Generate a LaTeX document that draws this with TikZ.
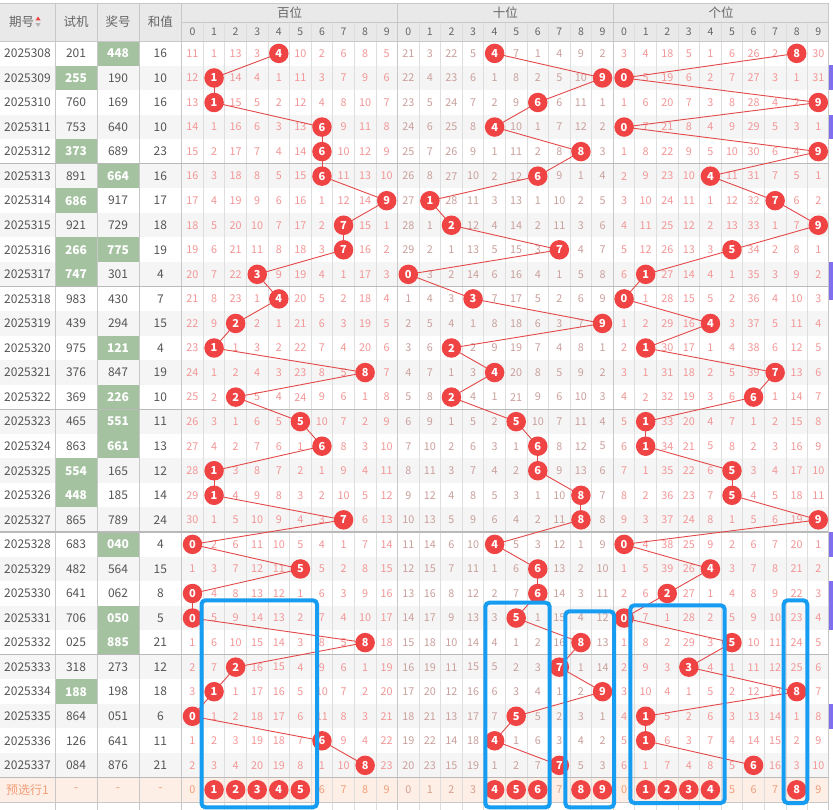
\documentclass[tikz,border=0pt]{standalone}
\usepackage{fontspec}
\setmainfont{Noto Sans CJK SC}
\definecolor{headgrey}{RGB}{233,233,233}
\definecolor{headtext}{RGB}{102,102,102}
\definecolor{stripe}{RGB}{245,245,245}
\definecolor{gridline}{RGB}{222,222,222}
\definecolor{siderule}{RGB}{200,200,200}
\definecolor{grouprule}{RGB}{185,185,185}
\definecolor{textgrey}{RGB}{85,85,85}
\definecolor{pairgreen}{RGB}{164,194,160}
\definecolor{miss0}{RGB}{243,150,150}
\definecolor{miss1}{RGB}{202,160,156}
\definecolor{miss2}{RGB}{243,150,150}
\definecolor{ballred}{RGB}{240,68,68}
\definecolor{trendred}{RGB}{228,72,72}
\definecolor{boxblue}{RGB}{22,156,240}
\definecolor{prefbg}{RGB}{253,238,230}
\definecolor{pref0}{RGB}{242,158,120}
\definecolor{pref1}{RGB}{214,160,140}
\definecolor{pref2}{RGB}{242,158,120}
\definecolor{markviolet}{RGB}{128,112,240}
\tikzstyle{cell}=[inner sep=0, text=textgrey, font=\fontsize{12}{14}\selectfont]
\tikzstyle{pair}=[inner sep=0, text=white, font=\fontsize{12}{14}\selectfont\bfseries]
\tikzstyle{head}=[inner sep=0, text=headtext, font=\fontsize{12.5}{14}\selectfont]
\tikzstyle{subhead}=[inner sep=0, text=headtext, font=\fontsize{10.5}{12}\selectfont]
\tikzstyle{miss}=[inner sep=0, font=\fontsize{10.8}{12}\selectfont]
\tikzstyle{ball}=[circle, fill=ballred, text=white, inner sep=0, minimum size=19.5pt, font=\fontsize{11}{12}\selectfont\bfseries]
\tikzstyle{trendline}=[draw=trendred, line width=0.9pt]
\tikzstyle{pick}=[draw=boxblue, line width=4pt, rounded corners=4pt]
\tikzstyle{thin grid}=[draw=gridline, line width=0.8pt]
\tikzstyle{side rule}=[draw=siderule, line width=0.9pt]
\tikzstyle{group rule}=[draw=grouprule, line width=1.3pt]

\begin{document}
\begin{tikzpicture}[x=1pt, y=-1pt]
  \useasboundingbox (0,0) rectangle (833,810);
  \fill[white] (0,0) rectangle (833,810);

  % header
  \fill[headgrey] (0,3) rectangle (828.3,41);
  \node[head] (h-per) at (21.7,22) {期号};
  \fill[ballred] (35.6,20.3) -- (40.6,20.3) -- (38.1,16.6) -- cycle;
  \fill[black!30] (35.6,23.2) -- (40.6,23.2) -- (38.1,26.9) -- cycle;
  \node[head] (h-tst) at (76,22) {试机};
  \node[head] (h-jh) at (118,22) {奖号};
  \node[head] (h-sm) at (160.4,22) {和值};
  \foreach \pos/\name in {0/百位,1/十位,2/个位}{
    \node[head] (h-\pos) at ({289.6+215.8*\pos},12.5) {\name};
    \foreach \dg in {0,...,9}
      \node[subhead] (h-\pos-\dg) at ({192.49+215.8*\pos+21.58*\dg},32) {\dg};
  }

  % missing counts before the first row
  \foreach \val [count=\dg from 0] in {10,0,12,2,0,9,1,5,7,4}
    {\expandafter\xdef\csname mv-0-\dg\endcsname{\val}}
  \foreach \val [count=\dg from 0] in {20,2,21,4,0,6,0,3,8,1}
    {\expandafter\xdef\csname mv-1-\dg\endcsname{\val}}
  \foreach \val [count=\dg from 0] in {2,3,17,4,0,5,25,1,0,29}
    {\expandafter\xdef\csname mv-2-\dg\endcsname{\val}}

  % rows
  \foreach \per/\tst/\jh/\sm/\gs/\gj/\dgh/\dgt/\dgu [count=\rw from 0] in {
    2025308/201/448/16/0/1/4/4/8, 2025309/255/190/10/1/0/1/9/0,
    2025310/760/169/16/0/0/1/6/9, 2025311/753/640/10/0/0/6/4/0,
    2025312/373/689/23/1/0/6/8/9, 2025313/891/664/16/0/1/6/6/4,
    2025314/686/917/17/1/0/9/1/7, 2025315/921/729/18/0/0/7/2/9,
    2025316/266/775/19/1/1/7/7/5, 2025317/747/301/4/1/0/3/0/1,
    2025318/983/430/7/0/0/4/3/0, 2025319/439/294/15/0/0/2/9/4,
    2025320/975/121/4/0/1/1/2/1, 2025321/376/847/19/0/0/8/4/7,
    2025322/369/226/10/0/1/2/2/6, 2025323/465/551/11/0/1/5/5/1,
    2025324/863/661/13/0/1/6/6/1, 2025325/554/165/12/1/0/1/6/5,
    2025326/448/185/14/1/0/1/8/5, 2025327/865/789/24/0/0/7/8/9,
    2025328/683/040/4/0/1/0/4/0, 2025329/482/564/15/0/0/5/6/4,
    2025330/641/062/8/0/0/0/6/2, 2025331/706/050/5/0/1/0/5/0,
    2025332/025/885/21/0/1/8/8/5, 2025333/318/273/12/0/0/2/7/3,
    2025334/188/198/18/1/0/1/9/8, 2025335/864/051/6/0/0/0/5/1,
    2025336/126/641/11/0/0/6/4/1, 2025337/084/876/21/0/0/8/7/6}{
    \pgfmathsetmacro\yt{41+24.55*\rw}
    \pgfmathsetmacro\yc{\yt+12.4}
    \ifodd\rw \fill[stripe] (0,\yt) rectangle (828.3,\yt+24.55); \fi
    \node[cell] (per-\rw) at (27.5,\yc) {\per};
    \ifnum\gs=1
      \fill[pairgreen] (55,\yt) rectangle (97,\yt+24.55);
      \node[pair] (tst-\rw) at (76,\yc) {\tst};
    \else
      \node[cell] (tst-\rw) at (76,\yc) {\tst};
    \fi
    \ifnum\gj=1
      \fill[pairgreen] (97,\yt) rectangle (139,\yt+24.55);
      \node[pair] (jh-\rw) at (118,\yc) {\jh};
    \else
      \node[cell] (jh-\rw) at (118,\yc) {\jh};
    \fi
    \node[cell] (sm-\rw) at (160.4,\yc) {\sm};
    \foreach \pos/\hit in {0/\dgh,1/\dgt,2/\dgu}{
      \foreach \dg in {0,...,9}{
        \pgfmathsetmacro\xc{192.49+215.8*\pos+21.58*\dg}
        \ifnum\dg=\hit
          \coordinate (b-\pos-\rw) at (\xc,\yc);
          \expandafter\xdef\csname dg-\pos-\rw\endcsname{\dg}
          \expandafter\xdef\csname mv-\pos-\dg\endcsname{0}
        \else
          \pgfmathtruncatemacro\val{\csname mv-\pos-\dg\endcsname+1}
          \expandafter\xdef\csname mv-\pos-\dg\endcsname{\val}
          \node[miss, text=miss\pos] (m-\pos-\dg-\rw) at (\xc,\yc) {\val};
        \fi
      }
    }
  }

  % preselect row
  \fill[prefbg] (0,777.5) rectangle (828.3,802);
  \node[cell, text=pref0] (pre) at (27.5,789.8) {预选行1};
  \foreach \xv in {76,118,160.4}
    \node[cell, text=pref0] (pre-\xv) at (\xv,789.8) {-};

  % grid
  \foreach \pos in {0,1,2}
    \foreach \dg in {1,...,9}
      \draw[thin grid] ({181.7+215.8*\pos+21.58*\dg},22) -- ++(0,788);
  \foreach \xv in {55,97,139,181.7,397.5,613.3,828.3}
    \draw[side rule] (\xv,3) -- (\xv,810);
  \draw[side rule] (0,3) -- (828.3,3);
  \draw[side rule] (181.7,22) -- (828.3,22);
  \draw[side rule] (0,41) -- (828.3,41);
  \foreach \k in {1,...,5}
    \draw[group rule] (0,{41+122.75*\k}) -- (828.3,{41+122.75*\k});
  \draw[group rule] (0,777.5) -- (828.3,777.5);
  \draw[side rule] (0,802) -- (828.3,802);

  % trend lines
  \foreach \pos in {0,1,2}{
    \foreach \rw in {1,...,29}{
      \pgfmathtruncatemacro\up{\rw-1}
      \draw[trendline] (b-\pos-\up.center) -- (b-\pos-\rw.center);
    }
  }

  % drawn digits
  \foreach \pos in {0,1,2}
    \foreach \rw in {0,...,29}
      \node[ball] (n-\pos-\rw) at (b-\pos-\rw) {\csname dg-\pos-\rw\endcsname};

  % preselected digits
  \foreach \pos/\dg in {0/1,0/2,0/3,0/4,0/5,1/4,1/5,1/6,1/8,1/9,2/1,2/2,2/3,2/4,2/8}
    \node[ball] (p-\pos-\dg) at ({192.49+215.8*\pos+21.58*\dg},789.8) {\dg};
  \foreach \pos/\dg in {0/0,0/6,0/7,0/8,0/9,1/0,1/1,1/2,1/3,1/7,2/0,2/5,2/6,2/7,2/9}
    \node[miss, text=pref\pos] (p-\pos-\dg) at ({192.49+215.8*\pos+21.58*\dg},789.8) {\dg};

  % picked blocks
  \draw[pick] (201.5,600.3) rectangle (317,807.3);
  \draw[pick] (485.3,602.7) rectangle (549.7,807.3);
  \draw[pick] (565.3,611.3) rectangle (614,807.3);
  \draw[pick] (630.3,605.3) rectangle (724.7,803);
  \draw[pick] (783.7,600.3) rectangle (807.3,803);

  % side marks
  \foreach \ya/\yb in {65.5/90, 114.7/139.2, 262/300, 532/556.5, 581/630, 704/728.5}
    \fill[markviolet] (828.8,\ya) rectangle (833,\yb);
\end{tikzpicture}
\end{document}
